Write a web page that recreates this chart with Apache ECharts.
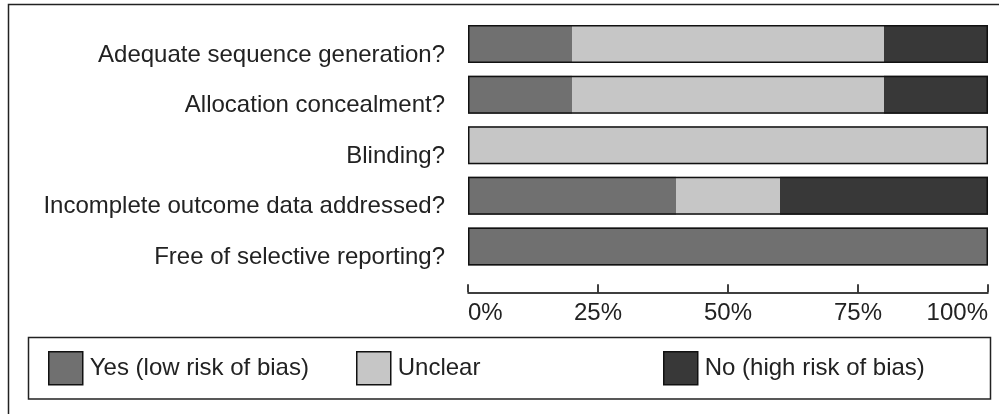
<!DOCTYPE html>
<html><head><meta charset="utf-8">
<script src="https://cdn.jsdelivr.net/npm/echarts@6/dist/echarts.min.js"></script>
<style>html,body{margin:0;padding:0;background:#fff}#c{width:999px;height:414px}</style>
</head><body><div id="c"></div>
<script>
var categories = ['Adequate sequence generation?','Allocation concealment?','Blinding?','Incomplete outcome data addressed?','Free of selective reporting?'];
var yesLow = [20, 20, 0, 40, 100];
var unclear = [60, 60, 100, 20, 0];
var noHigh = [20, 20, 0, 40, 0];
var tickLabels = ['0%','25%','50%','75%','100%'];
var seriesNames = ['Yes (low risk of bias)','Unclear','No (high risk of bias)'];

var totals = categories.map(function(_, i){ return yesLow[i] + unclear[i] + noHigh[i]; });
var FONT = 'Liberation Sans, Arial, sans-serif';
var chart = echarts.init(document.getElementById('c'), null, {renderer:'canvas'});
function seg(name, data, color){
  return {name:name, type:'bar', stack:'s', data:data, barWidth:38, barGap:'-100%',
    itemStyle:{color:color, borderColor:'#111', borderWidth:0}, silent:true, animation:false};
}
function leg(name, left){
  return {data:[name], left:left, top:351, padding:0, itemWidth:34, itemHeight:33, itemGap:0, icon:'rect',
    itemStyle:{borderColor:'#111', borderWidth:1.5},
    textStyle:{fontFamily:FONT, fontSize:24, color:'#222', padding:[0,0,0,2]}, selectedMode:false};
}
chart.setOption({
  animation:false,
  grid:{left:468, right:11, top:18.75, bottom:142.25, containLabel:false},
  xAxis:{type:'value', min:0, max:100, interval:25, offset:20.5,
    axisLine:{show:true, lineStyle:{color:'#000', width:1.5}},
    axisTick:{show:true, inside:true, length:8, lineStyle:{color:'#000', width:1.5}},
    splitLine:{show:false},
    axisLabel:{formatter:function(v){return tickLabels[Math.round(v/25)];}, fontFamily:FONT, fontSize:24, color:'#222', margin:9,
      alignMinLabel:'left', alignMaxLabel:'right'}},
  yAxis:{type:'category', data:categories, inverse:true,
    axisLine:{show:false}, axisTick:{show:false},
    axisLabel:{fontFamily:FONT, fontSize:24, color:'#222', margin:23, verticalAlign:'top', lineHeight:22}},
  legend:[leg(seriesNames[0],48), leg(seriesNames[1],356), leg(seriesNames[2],663)],
  series:[
    seg(seriesNames[0], yesLow, '#707070'),
    seg(seriesNames[1], unclear, '#c6c6c6'),
    seg(seriesNames[2], noHigh, '#383838'),
    {name:'frame', type:'bar', data:totals, barWidth:38, barGap:'-100%', z:5,
      itemStyle:{color:'rgba(0,0,0,0)', borderColor:'#111', borderWidth:1.5}, silent:true}
  ],
  graphic:[
    {type:'rect', shape:{x:8.5, y:4.5, width:1100, height:500}, style:{fill:null, stroke:'#222', lineWidth:1.5}, silent:true},
    {type:'rect', shape:{x:28.5, y:337.5, width:962, height:61.5}, style:{fill:null, stroke:'#222', lineWidth:1.5}, silent:true}
  ]
});
</script></body></html>
